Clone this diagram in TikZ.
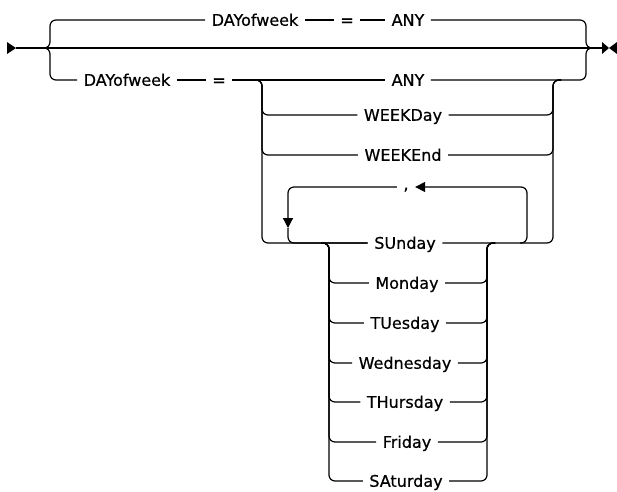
\documentclass[tikz,border=0pt]{standalone}
\usepackage{fontspec}
\setmainfont{DejaVu Sans}[FakeBold=0.6]
\usetikzlibrary{arrows.meta}
\begin{document}
\begin{tikzpicture}[x=1pt, y=-1pt, line width=1.2pt,
 word/.style={font=\fontsize{16}{19}\selectfont, inner xsep=6pt, inner ysep=0pt, text height=11.5pt, text depth=0pt},
 rail/.style={rounded corners=6pt},
 back/.style={-{Triangle[length=10pt,width=10pt]}}]
 \useasboundingbox (0,0) rectangle (617,491);
 \node[word] (dayA) at (255,20){DAYofweek};
 \node[word] (eqA) at (347,20){=};
 \node[word] (anyA) at (408,20){ANY};
 \node[word] (dayB) at (127,80){DAYofweek};
 \node[word] (eqB) at (219,80){=};
 \node[word] (anyB) at (408,80){ANY};
 \node[word] (wkday) at (403,115){WEEKDay};
 \node[word] (wkend) at (403,155){WEEKEnd};
 \node[word] (comma) at (406,184){,};
 \node[word] (sun) at (405,243){SUnday};
 \node[word] (mon) at (407,283){Monday};
 \node[word] (tue) at (405,323){TUesday};
 \node[word] (wed) at (405,363){Wednesday};
 \node[word] (thu) at (405,402){THursday};
 \node[word] (fri) at (407,442){Friday};
 \node[word] (sat) at (406,481){SAturday};
 \coordinate (start) at (16,48);
 \coordinate (stop) at (602,48);
 \coordinate (lfork) at (42,48);
 \coordinate (lbrace) at (50,48);
 \coordinate (rbrace) at (586,48);
 \coordinate (rjoin) at (594,48);
 \coordinate (lsplit) at (254,80);
 \coordinate (lrail) at (262,80);
 \coordinate (rrail) at (553,80);
 \coordinate (rsplit) at (561,80);
 \coordinate (loopL) at (288,187);
 \coordinate (loopR) at (527,187);
 \coordinate (loopdown) at (288,228);
 \coordinate (loopin) at (520,243);
 \coordinate (dlsplit) at (321,243);
 \coordinate (dlrail) at (329,243);
 \coordinate (drrail) at (487,243);
 \coordinate (drsplit) at (495,243);
 \fill (7,42) -- (start) -- (7,54) -- cycle;
 \fill (stop) -- (609,48) -- (602,54) -- (602,42) -- (609,48) -- (617,42) -- (617,54) -- (609,48);
 \draw (start) -- (stop);
 \draw[rail] (lfork) -| (lbrace |- dayA.west) -- (dayA.west);
 \draw (dayA) -- (eqA) -- (anyA);
 \draw[rail] (anyA.east) -| (rbrace) -- (rjoin);
 \draw[rail] (lfork) -| (lbrace |- dayB.west) -- (dayB.west);
 \draw (dayB) -- (eqB) -- (anyB);
 \draw[rail] (anyB.east) -| (rbrace) -- (rjoin);
 \draw[rail] (lsplit) -| (lrail |- wkday) -- (wkday.west);
 \draw[rail] (lsplit) -| (lrail |- wkend) -- (wkend.west);
 \draw[rail] (lsplit) -| (lrail |- sun) -- (sun.west);
 \draw[rail] (wkday.east) -| (rrail) -- (rsplit);
 \draw[rail] (wkend.east) -| (rrail) -- (rsplit);
 \draw[rail] (sun.east) -| (rrail) -- (rsplit);
 \draw[rail, back] (loopin) -| (loopR) -- (comma.east |- loopR);
 \draw[rail, back] (comma.west |- loopL) -| (loopdown);
 \draw[rail] (loopdown) |- (sun.west);
 \draw[rail] (dlsplit) -| (dlrail |- mon) -- (mon.west);
 \draw[rail] (dlsplit) -| (dlrail |- tue) -- (tue.west);
 \draw[rail] (dlsplit) -| (dlrail |- wed) -- (wed.west);
 \draw[rail] (dlsplit) -| (dlrail |- thu) -- (thu.west);
 \draw[rail] (dlsplit) -| (dlrail |- fri) -- (fri.west);
 \draw[rail] (dlsplit) -| (dlrail |- sat) -- (sat.west);
 \draw[rail] (mon.east) -| (drrail) -- (drsplit);
 \draw[rail] (tue.east) -| (drrail) -- (drsplit);
 \draw[rail] (wed.east) -| (drrail) -- (drsplit);
 \draw[rail] (thu.east) -| (drrail) -- (drsplit);
 \draw[rail] (fri.east) -| (drrail) -- (drsplit);
 \draw[rail] (sat.east) -| (drrail) -- (drsplit);
\end{tikzpicture}
\end{document}
